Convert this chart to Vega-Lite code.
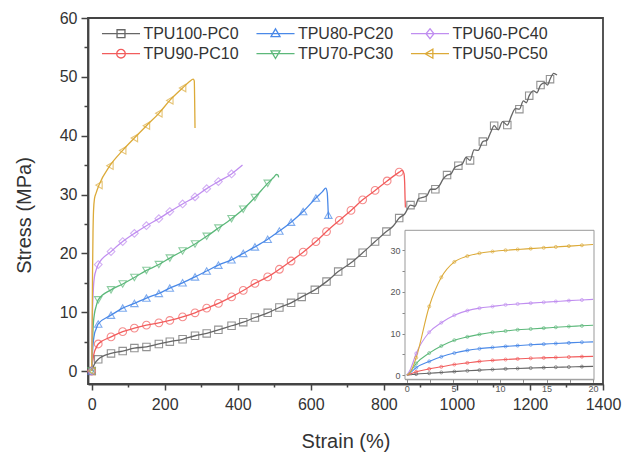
{
 "$schema": "https://vega.github.io/schema/vega-lite/v6.json",
 "width": 515, "height": 366,
 "autosize": "none",
 "padding": {"left": 88, "top": 18, "right": 29, "bottom": 71},
 "background": "white",
 "config": {"view": {"stroke": "#444", "strokeWidth": 1.8}, "font": "Liberation Sans", "axis": {"grid": false}},
 "datasets": {
  "main": [
   {"s":"TPU100-PC0","x":0,"y":0,"m":1},{"s":"TPU100-PC0","x":1,"y":0.25,"m":0},{"s":"TPU100-PC0","x":2.4,"y":0.45,"m":0},{"s":"TPU100-PC0","x":5.1,"y":0.85,"m":0},{"s":"TPU100-PC0","x":7.8,"y":1.2,"m":0},{"s":"TPU100-PC0","x":11.9,"y":1.6,"m":0},{"s":"TPU100-PC0","x":18,"y":2.0,"m":1},{"s":"TPU100-PC0","x":53,"y":3.0,"m":1},{"s":"TPU100-PC0","x":85,"y":3.4,"m":1},{"s":"TPU100-PC0","x":117,"y":3.9,"m":1},{"s":"TPU100-PC0","x":150,"y":4.1,"m":1},{"s":"TPU100-PC0","x":184,"y":4.6,"m":1},{"s":"TPU100-PC0","x":214,"y":5.0,"m":1},{"s":"TPU100-PC0","x":249,"y":5.4,"m":1},{"s":"TPU100-PC0","x":283,"y":6.0,"m":1},{"s":"TPU100-PC0","x":315,"y":6.4,"m":1},{"s":"TPU100-PC0","x":347,"y":7.0,"m":1},{"s":"TPU100-PC0","x":383,"y":7.7,"m":1},{"s":"TPU100-PC0","x":415,"y":8.3,"m":1},{"s":"TPU100-PC0","x":447,"y":9.1,"m":1},{"s":"TPU100-PC0","x":482,"y":9.9,"m":1},{"s":"TPU100-PC0","x":514,"y":10.8,"m":1},{"s":"TPU100-PC0","x":546,"y":11.6,"m":1},{"s":"TPU100-PC0","x":575,"y":12.6,"m":1},{"s":"TPU100-PC0","x":611,"y":13.8,"m":1},{"s":"TPU100-PC0","x":643,"y":15.2,"m":1},{"s":"TPU100-PC0","x":675,"y":16.9,"m":1},{"s":"TPU100-PC0","x":710,"y":18.4,"m":1},{"s":"TPU100-PC0","x":742,"y":20.1,"m":1},{"s":"TPU100-PC0","x":776,"y":22.0,"m":1},{"s":"TPU100-PC0","x":807,"y":23.7,"m":1},{"s":"TPU100-PC0","x":825,"y":24.6,"m":0},{"s":"TPU100-PC0","x":842,"y":26.0,"m":1},{"s":"TPU100-PC0","x":857,"y":26.7,"m":0},{"s":"TPU100-PC0","x":873,"y":28.2,"m":1},{"s":"TPU100-PC0","x":885,"y":28.0,"m":0},{"s":"TPU100-PC0","x":895,"y":29.3,"m":0},{"s":"TPU100-PC0","x":906,"y":29.5,"m":1},{"s":"TPU100-PC0","x":918,"y":29.8,"m":0},{"s":"TPU100-PC0","x":928,"y":30.9,"m":0},{"s":"TPU100-PC0","x":941,"y":30.9,"m":1},{"s":"TPU100-PC0","x":952,"y":31.5,"m":0},{"s":"TPU100-PC0","x":962,"y":32.6,"m":0},{"s":"TPU100-PC0","x":973,"y":33.3,"m":1},{"s":"TPU100-PC0","x":984,"y":33.5,"m":0},{"s":"TPU100-PC0","x":994,"y":34.6,"m":0},{"s":"TPU100-PC0","x":1004,"y":34.9,"m":1},{"s":"TPU100-PC0","x":1015,"y":35.2,"m":0},{"s":"TPU100-PC0","x":1025,"y":36.3,"m":0},{"s":"TPU100-PC0","x":1036,"y":35.8,"m":1},{"s":"TPU100-PC0","x":1047,"y":37.6,"m":0},{"s":"TPU100-PC0","x":1058,"y":37.5,"m":0},{"s":"TPU100-PC0","x":1071,"y":39.0,"m":1},{"s":"TPU100-PC0","x":1082,"y":39.2,"m":0},{"s":"TPU100-PC0","x":1092,"y":40.5,"m":0},{"s":"TPU100-PC0","x":1102,"y":41.7,"m":1},{"s":"TPU100-PC0","x":1113,"y":41.0,"m":0},{"s":"TPU100-PC0","x":1125,"y":42.4,"m":0},{"s":"TPU100-PC0","x":1138,"y":41.8,"m":1},{"s":"TPU100-PC0","x":1150,"y":43.5,"m":0},{"s":"TPU100-PC0","x":1160,"y":44.6,"m":0},{"s":"TPU100-PC0","x":1171,"y":44.5,"m":1},{"s":"TPU100-PC0","x":1182,"y":45.9,"m":0},{"s":"TPU100-PC0","x":1190,"y":45.6,"m":0},{"s":"TPU100-PC0","x":1198,"y":46.8,"m":1},{"s":"TPU100-PC0","x":1210,"y":47.6,"m":0},{"s":"TPU100-PC0","x":1219,"y":47.3,"m":0},{"s":"TPU100-PC0","x":1229,"y":48.6,"m":1},{"s":"TPU100-PC0","x":1240,"y":49.0,"m":0},{"s":"TPU100-PC0","x":1248,"y":48.6,"m":0},{"s":"TPU100-PC0","x":1255,"y":49.6,"m":1},{"s":"TPU100-PC0","x":1265,"y":50.6,"m":0},{"s":"TPU100-PC0","x":1274,"y":50.3,"m":0},
   {"s":"TPU90-PC10","x":0,"y":0,"m":1},{"s":"TPU90-PC10","x":1,"y":0.8,"m":0},{"s":"TPU90-PC10","x":2.4,"y":1.5,"m":0},{"s":"TPU90-PC10","x":3.7,"y":2.0,"m":0},{"s":"TPU90-PC10","x":5.1,"y":2.55,"m":0},{"s":"TPU90-PC10","x":7.8,"y":3.3,"m":0},{"s":"TPU90-PC10","x":11.9,"y":3.9,"m":0},{"s":"TPU90-PC10","x":18,"y":4.6,"m":1},{"s":"TPU90-PC10","x":53,"y":5.8,"m":1},{"s":"TPU90-PC10","x":85,"y":6.7,"m":1},{"s":"TPU90-PC10","x":117,"y":7.3,"m":1},{"s":"TPU90-PC10","x":150,"y":7.8,"m":1},{"s":"TPU90-PC10","x":184,"y":8.2,"m":1},{"s":"TPU90-PC10","x":214,"y":8.6,"m":1},{"s":"TPU90-PC10","x":249,"y":9.2,"m":1},{"s":"TPU90-PC10","x":283,"y":9.9,"m":1},{"s":"TPU90-PC10","x":315,"y":10.7,"m":1},{"s":"TPU90-PC10","x":347,"y":11.5,"m":1},{"s":"TPU90-PC10","x":383,"y":12.6,"m":1},{"s":"TPU90-PC10","x":415,"y":13.7,"m":1},{"s":"TPU90-PC10","x":447,"y":14.9,"m":1},{"s":"TPU90-PC10","x":482,"y":16.0,"m":1},{"s":"TPU90-PC10","x":514,"y":17.3,"m":1},{"s":"TPU90-PC10","x":546,"y":18.7,"m":1},{"s":"TPU90-PC10","x":579,"y":20.2,"m":1},{"s":"TPU90-PC10","x":614,"y":22.0,"m":1},{"s":"TPU90-PC10","x":643,"y":23.7,"m":1},{"s":"TPU90-PC10","x":678,"y":25.6,"m":1},{"s":"TPU90-PC10","x":710,"y":27.3,"m":1},{"s":"TPU90-PC10","x":742,"y":29.1,"m":1},{"s":"TPU90-PC10","x":776,"y":30.7,"m":1},{"s":"TPU90-PC10","x":809,"y":32.3,"m":1},{"s":"TPU90-PC10","x":842,"y":33.8,"m":1},{"s":"TPU90-PC10","x":850,"y":34.1,"m":0},{"s":"TPU90-PC10","x":855,"y":33.6,"m":0},{"s":"TPU90-PC10","x":857,"y":32.0,"m":0},{"s":"TPU90-PC10","x":858,"y":29.5,"m":0},{"s":"TPU90-PC10","x":859,"y":27.8,"m":0},
   {"s":"TPU80-PC20","x":0,"y":0,"m":1},{"s":"TPU80-PC20","x":1,"y":1.8,"m":0},{"s":"TPU80-PC20","x":2.4,"y":3.3,"m":0},{"s":"TPU80-PC20","x":3.7,"y":4.4,"m":0},{"s":"TPU80-PC20","x":5.1,"y":5.3,"m":0},{"s":"TPU80-PC20","x":7.8,"y":6.35,"m":0},{"s":"TPU80-PC20","x":11.9,"y":7.1,"m":0},{"s":"TPU80-PC20","x":18,"y":8.0,"m":1},{"s":"TPU80-PC20","x":53,"y":9.5,"m":1},{"s":"TPU80-PC20","x":85,"y":10.7,"m":1},{"s":"TPU80-PC20","x":117,"y":11.5,"m":1},{"s":"TPU80-PC20","x":150,"y":12.4,"m":1},{"s":"TPU80-PC20","x":184,"y":13.2,"m":1},{"s":"TPU80-PC20","x":214,"y":14.1,"m":1},{"s":"TPU80-PC20","x":249,"y":15.0,"m":1},{"s":"TPU80-PC20","x":283,"y":16.0,"m":1},{"s":"TPU80-PC20","x":315,"y":17.0,"m":1},{"s":"TPU80-PC20","x":347,"y":18.0,"m":1},{"s":"TPU80-PC20","x":383,"y":18.9,"m":1},{"s":"TPU80-PC20","x":415,"y":20.0,"m":1},{"s":"TPU80-PC20","x":447,"y":21.1,"m":1},{"s":"TPU80-PC20","x":482,"y":22.4,"m":1},{"s":"TPU80-PC20","x":514,"y":23.8,"m":1},{"s":"TPU80-PC20","x":546,"y":25.3,"m":1},{"s":"TPU80-PC20","x":579,"y":27.1,"m":1},{"s":"TPU80-PC20","x":614,"y":29.4,"m":1},{"s":"TPU80-PC20","x":632,"y":30.5,"m":0},{"s":"TPU80-PC20","x":641,"y":31.1,"m":0},{"s":"TPU80-PC20","x":645,"y":30.3,"m":0},{"s":"TPU80-PC20","x":647,"y":28.0,"m":0},{"s":"TPU80-PC20","x":648,"y":26.5,"m":1},{"s":"TPU80-PC20","x":649,"y":26.0,"m":0},
   {"s":"TPU70-PC30","x":0,"y":0,"m":1},{"s":"TPU70-PC30","x":1,"y":2.8,"m":0},{"s":"TPU70-PC30","x":2.4,"y":5.3,"m":0},{"s":"TPU70-PC30","x":3.7,"y":7.0,"m":0},{"s":"TPU70-PC30","x":5.1,"y":8.4,"m":0},{"s":"TPU70-PC30","x":7.8,"y":9.8,"m":0},{"s":"TPU70-PC30","x":11.9,"y":10.9,"m":0},{"s":"TPU70-PC30","x":18,"y":12.1,"m":1},{"s":"TPU70-PC30","x":53,"y":13.8,"m":1},{"s":"TPU70-PC30","x":85,"y":14.8,"m":1},{"s":"TPU70-PC30","x":117,"y":15.9,"m":1},{"s":"TPU70-PC30","x":150,"y":17.1,"m":1},{"s":"TPU70-PC30","x":184,"y":18.1,"m":1},{"s":"TPU70-PC30","x":214,"y":19.2,"m":1},{"s":"TPU70-PC30","x":249,"y":20.4,"m":1},{"s":"TPU70-PC30","x":283,"y":21.6,"m":1},{"s":"TPU70-PC30","x":315,"y":22.9,"m":1},{"s":"TPU70-PC30","x":347,"y":24.3,"m":1},{"s":"TPU70-PC30","x":383,"y":25.9,"m":1},{"s":"TPU70-PC30","x":415,"y":27.5,"m":1},{"s":"TPU70-PC30","x":447,"y":29.5,"m":1},{"s":"TPU70-PC30","x":482,"y":31.9,"m":1},{"s":"TPU70-PC30","x":498,"y":32.9,"m":0},{"s":"TPU70-PC30","x":506,"y":33.4,"m":0},{"s":"TPU70-PC30","x":510,"y":33.3,"m":0},{"s":"TPU70-PC30","x":512,"y":32.9,"m":0},
   {"s":"TPU60-PC40","x":0,"y":0,"m":1},{"s":"TPU60-PC40","x":1,"y":5.2,"m":0},{"s":"TPU60-PC40","x":2.4,"y":10.3,"m":0},{"s":"TPU60-PC40","x":3.7,"y":12.6,"m":0},{"s":"TPU60-PC40","x":5.1,"y":14.4,"m":0},{"s":"TPU60-PC40","x":7.8,"y":16.1,"m":0},{"s":"TPU60-PC40","x":11.9,"y":17.1,"m":0},{"s":"TPU60-PC40","x":18,"y":18.1,"m":1},{"s":"TPU60-PC40","x":53,"y":20.3,"m":1},{"s":"TPU60-PC40","x":85,"y":22.0,"m":1},{"s":"TPU60-PC40","x":117,"y":23.4,"m":1},{"s":"TPU60-PC40","x":150,"y":24.7,"m":1},{"s":"TPU60-PC40","x":184,"y":25.9,"m":1},{"s":"TPU60-PC40","x":214,"y":27.1,"m":1},{"s":"TPU60-PC40","x":249,"y":28.4,"m":1},{"s":"TPU60-PC40","x":283,"y":29.6,"m":1},{"s":"TPU60-PC40","x":315,"y":31.0,"m":1},{"s":"TPU60-PC40","x":347,"y":32.2,"m":1},{"s":"TPU60-PC40","x":383,"y":33.5,"m":1},{"s":"TPU60-PC40","x":413,"y":35.0,"m":0},
   {"s":"TPU50-PC50","x":0,"y":0,"m":1},{"s":"TPU50-PC50","x":1,"y":4.2,"m":0},{"s":"TPU50-PC50","x":2.4,"y":16.5,"m":0},{"s":"TPU50-PC50","x":3.7,"y":23.5,"m":0},{"s":"TPU50-PC50","x":5.1,"y":27.2,"m":0},{"s":"TPU50-PC50","x":7.8,"y":29.3,"m":0},{"s":"TPU50-PC50","x":11.9,"y":30.2,"m":0},{"s":"TPU50-PC50","x":20,"y":31.6,"m":1},{"s":"TPU50-PC50","x":50,"y":34.9,"m":1},{"s":"TPU50-PC50","x":85,"y":37.5,"m":1},{"s":"TPU50-PC50","x":117,"y":39.6,"m":1},{"s":"TPU50-PC50","x":150,"y":41.7,"m":1},{"s":"TPU50-PC50","x":184,"y":43.8,"m":1},{"s":"TPU50-PC50","x":214,"y":46.0,"m":1},{"s":"TPU50-PC50","x":249,"y":48.1,"m":1},{"s":"TPU50-PC50","x":268,"y":49.2,"m":0},{"s":"TPU50-PC50","x":278,"y":49.6,"m":0},{"s":"TPU50-PC50","x":281,"y":49.3,"m":0},{"s":"TPU50-PC50","x":282,"y":46.0,"m":0},{"s":"TPU50-PC50","x":283,"y":41.3,"m":0}
  ],
  "inset": [
   {"s":"TPU100-PC0","x":0,"y":0,"m":0},{"s":"TPU100-PC0","x":0.4,"y":0.1,"m":0},{"s":"TPU100-PC0","x":1.0,"y":0.25,"m":1},{"s":"TPU100-PC0","x":2.4,"y":0.45,"m":1},{"s":"TPU100-PC0","x":3.7,"y":0.65,"m":1},{"s":"TPU100-PC0","x":5.1,"y":0.85,"m":1},{"s":"TPU100-PC0","x":6.5,"y":1.05,"m":1},{"s":"TPU100-PC0","x":7.8,"y":1.2,"m":1},{"s":"TPU100-PC0","x":9.2,"y":1.35,"m":1},{"s":"TPU100-PC0","x":10.6,"y":1.5,"m":1},{"s":"TPU100-PC0","x":11.9,"y":1.6,"m":1},{"s":"TPU100-PC0","x":13.3,"y":1.7,"m":1},{"s":"TPU100-PC0","x":14.7,"y":1.8,"m":1},{"s":"TPU100-PC0","x":16.0,"y":1.9,"m":1},{"s":"TPU100-PC0","x":17.4,"y":1.95,"m":1},{"s":"TPU100-PC0","x":18.8,"y":2.05,"m":1},{"s":"TPU100-PC0","x":20.0,"y":2.1,"m":0},
   {"s":"TPU90-PC10","x":0,"y":0,"m":0},{"s":"TPU90-PC10","x":0.4,"y":0.3,"m":0},{"s":"TPU90-PC10","x":1.0,"y":0.8,"m":1},{"s":"TPU90-PC10","x":2.4,"y":1.5,"m":1},{"s":"TPU90-PC10","x":3.7,"y":2.0,"m":1},{"s":"TPU90-PC10","x":5.1,"y":2.55,"m":1},{"s":"TPU90-PC10","x":6.5,"y":2.95,"m":1},{"s":"TPU90-PC10","x":7.8,"y":3.3,"m":1},{"s":"TPU90-PC10","x":9.2,"y":3.55,"m":1},{"s":"TPU90-PC10","x":10.6,"y":3.75,"m":1},{"s":"TPU90-PC10","x":11.9,"y":3.9,"m":1},{"s":"TPU90-PC10","x":13.3,"y":4.05,"m":1},{"s":"TPU90-PC10","x":14.7,"y":4.15,"m":1},{"s":"TPU90-PC10","x":16.0,"y":4.25,"m":1},{"s":"TPU90-PC10","x":17.4,"y":4.35,"m":1},{"s":"TPU90-PC10","x":18.8,"y":4.45,"m":1},{"s":"TPU90-PC10","x":20.0,"y":4.5,"m":0},
   {"s":"TPU80-PC20","x":0,"y":0,"m":0},{"s":"TPU80-PC20","x":0.4,"y":0.6,"m":0},{"s":"TPU80-PC20","x":1.0,"y":1.8,"m":1},{"s":"TPU80-PC20","x":2.4,"y":3.3,"m":1},{"s":"TPU80-PC20","x":3.7,"y":4.4,"m":1},{"s":"TPU80-PC20","x":5.1,"y":5.3,"m":1},{"s":"TPU80-PC20","x":6.5,"y":5.95,"m":1},{"s":"TPU80-PC20","x":7.8,"y":6.35,"m":1},{"s":"TPU80-PC20","x":9.2,"y":6.65,"m":1},{"s":"TPU80-PC20","x":10.6,"y":6.9,"m":1},{"s":"TPU80-PC20","x":11.9,"y":7.1,"m":1},{"s":"TPU80-PC20","x":13.3,"y":7.3,"m":1},{"s":"TPU80-PC20","x":14.7,"y":7.45,"m":1},{"s":"TPU80-PC20","x":16.0,"y":7.6,"m":1},{"s":"TPU80-PC20","x":17.4,"y":7.75,"m":1},{"s":"TPU80-PC20","x":18.8,"y":7.9,"m":1},{"s":"TPU80-PC20","x":20.0,"y":8.0,"m":0},
   {"s":"TPU70-PC30","x":0,"y":0,"m":0},{"s":"TPU70-PC30","x":0.4,"y":0.9,"m":0},{"s":"TPU70-PC30","x":1.0,"y":2.8,"m":1},{"s":"TPU70-PC30","x":2.4,"y":5.3,"m":1},{"s":"TPU70-PC30","x":3.7,"y":7.0,"m":1},{"s":"TPU70-PC30","x":5.1,"y":8.4,"m":1},{"s":"TPU70-PC30","x":6.5,"y":9.2,"m":1},{"s":"TPU70-PC30","x":7.8,"y":9.8,"m":1},{"s":"TPU70-PC30","x":9.2,"y":10.3,"m":1},{"s":"TPU70-PC30","x":10.6,"y":10.6,"m":1},{"s":"TPU70-PC30","x":11.9,"y":10.9,"m":1},{"s":"TPU70-PC30","x":13.3,"y":11.1,"m":1},{"s":"TPU70-PC30","x":14.7,"y":11.3,"m":1},{"s":"TPU70-PC30","x":16.0,"y":11.5,"m":1},{"s":"TPU70-PC30","x":17.4,"y":11.7,"m":1},{"s":"TPU70-PC30","x":18.8,"y":11.85,"m":1},{"s":"TPU70-PC30","x":20.0,"y":12.0,"m":0},
   {"s":"TPU60-PC40","x":0,"y":0,"m":0},{"s":"TPU60-PC40","x":0.4,"y":1.5,"m":0},{"s":"TPU60-PC40","x":1.0,"y":5.2,"m":1},{"s":"TPU60-PC40","x":2.4,"y":10.3,"m":1},{"s":"TPU60-PC40","x":3.7,"y":12.6,"m":1},{"s":"TPU60-PC40","x":5.1,"y":14.4,"m":1},{"s":"TPU60-PC40","x":6.5,"y":15.5,"m":1},{"s":"TPU60-PC40","x":7.8,"y":16.1,"m":1},{"s":"TPU60-PC40","x":9.2,"y":16.5,"m":1},{"s":"TPU60-PC40","x":10.6,"y":16.9,"m":1},{"s":"TPU60-PC40","x":11.9,"y":17.1,"m":1},{"s":"TPU60-PC40","x":13.3,"y":17.3,"m":1},{"s":"TPU60-PC40","x":14.7,"y":17.5,"m":1},{"s":"TPU60-PC40","x":16.0,"y":17.7,"m":1},{"s":"TPU60-PC40","x":17.4,"y":17.9,"m":1},{"s":"TPU60-PC40","x":18.8,"y":18.05,"m":1},{"s":"TPU60-PC40","x":20.0,"y":18.2,"m":0},
   {"s":"TPU50-PC50","x":0,"y":0,"m":0},{"s":"TPU50-PC50","x":0.4,"y":0.8,"m":0},{"s":"TPU50-PC50","x":1.0,"y":4.2,"m":1},{"s":"TPU50-PC50","x":2.4,"y":16.5,"m":1},{"s":"TPU50-PC50","x":3.7,"y":23.5,"m":1},{"s":"TPU50-PC50","x":5.1,"y":27.2,"m":1},{"s":"TPU50-PC50","x":6.5,"y":28.6,"m":1},{"s":"TPU50-PC50","x":7.8,"y":29.3,"m":1},{"s":"TPU50-PC50","x":9.2,"y":29.7,"m":1},{"s":"TPU50-PC50","x":10.6,"y":30.0,"m":1},{"s":"TPU50-PC50","x":11.9,"y":30.2,"m":1},{"s":"TPU50-PC50","x":13.3,"y":30.4,"m":1},{"s":"TPU50-PC50","x":14.7,"y":30.6,"m":1},{"s":"TPU50-PC50","x":16.0,"y":30.8,"m":1},{"s":"TPU50-PC50","x":17.4,"y":31.0,"m":1},{"s":"TPU50-PC50","x":18.8,"y":31.2,"m":1},{"s":"TPU50-PC50","x":20.0,"y":31.4,"m":0}
  ]
 },
 "layer": [
  {
   "data": {"name": "main"},
   "encoding": {
    "x": {"field": "x", "type": "quantitative",
     "scale": {"domain": [-10, 1400], "nice": false, "zero": false},
     "axis": {"orient": "bottom", "values": [0,100,200,300,400,500,600,700,800,900,1000,1100,1200,1300,1400], "format": "d",
      "labelExpr": "datum.value % 200 === 0 ? datum.label : ''",
      "tickSize": {"condition": {"test": "datum.value % 200 === 0", "value": 6}, "value": 3},
      "tickColor": "#444", "tickWidth": 1.5, "domainColor": "#444", "domainWidth": 1.8,
      "labelFontSize": 16, "labelColor": "#333", "labelPadding": 6, "labelFlush": false, "labelOverlap": false,
      "title": "Strain (%)", "titleFontSize": 20, "titleFontWeight": "normal", "titleColor": "#333",
      "titleY": 57, "titleBaseline": "middle"}},
    "y": {"field": "y", "type": "quantitative",
     "scale": {"domain": [-2.2, 60], "nice": false, "zero": false},
     "axis": {"orient": "left", "values": [0,5,10,15,20,25,30,35,40,45,50,55,60], "format": "d",
      "labelExpr": "datum.value % 10 === 0 ? datum.label : ''",
      "tickSize": {"condition": {"test": "datum.value % 10 === 0", "value": 7}, "value": 4},
      "tickColor": "#444", "tickWidth": 1.5, "domainColor": "#444", "domainWidth": 1.8,
      "labelFontSize": 16, "labelColor": "#333", "labelPadding": 4, "labelOverlap": false, "labelFlush": false,
      "title": "Stress (MPa)", "titleFontSize": 20, "titleFontWeight": "normal", "titleColor": "#333",
      "titleX": -64, "titleY": 197, "titleAngle": -90, "titleAlign": "center", "titleBaseline": "middle"}},
    "stroke": {"field": "s", "type": "nominal",
     "scale": {"domain": ["TPU100-PC0","TPU90-PC10","TPU80-PC20","TPU70-PC30","TPU60-PC40","TPU50-PC50"],
               "range": ["#666666","#f25c5c","#4a89e8","#5cb87a","#c08ef0","#dcaa38"]},
     "legend": {"orient": "none", "legendX": 21, "legendY": 3.7, "columns": 3, "direction": "vertical", "title": null, "padding": 0,
      "labelFontSize": 16, "labelColor": "#333", "labelFont": "Liberation Sans", "labelOffset": 10.4,
      "symbolSize": 484, "symbolStrokeWidth": 1.3, "columnPadding": 14.5, "rowPadding": 0,
      "encode": {"symbols": {"update": {
        "fill": {"value": "transparent"},
        "shape": {"signal": "datum.value === 'TPU100-PC0' ? 'M-1.73,0H1.73M-0.36,-0.36H0.36V0.36H-0.36Z' : datum.value === 'TPU90-PC10' ? 'M-1.73,0H1.73M0.39,0A0.39,0.39,0,1,1,-0.39,0A0.39,0.39,0,1,1,0.39,0Z' : datum.value === 'TPU80-PC20' ? 'M-1.73,0H1.73M0,-0.44L0.41,0.26L-0.41,0.26Z' : datum.value === 'TPU70-PC30' ? 'M-1.73,0H1.73M0,0.44L0.41,-0.26L-0.41,-0.26Z' : datum.value === 'TPU60-PC40' ? 'M-1.73,0H1.73M0,-0.45L0.36,0L0,0.45L-0.36,0Z' : 'M-1.73,0H1.73M-0.44,0L0.26,-0.41L0.26,0.41Z'"}
      }}}}
    }
   },
   "layer": [
    {"mark": {"type": "line", "strokeWidth": 1.3, "interpolate": "monotone"}},
    {"transform": [{"filter": "datum.m == 1 && datum.s === 'TPU100-PC0'"}], "mark": {"type": "point", "shape": "square", "filled": false, "size": 55, "strokeWidth": 1.1}},
    {"transform": [{"filter": "datum.m == 1 && datum.s === 'TPU90-PC10'"}], "mark": {"type": "point", "shape": "circle", "filled": false, "size": 60, "strokeWidth": 1.1}},
    {"transform": [{"filter": "datum.m == 1 && datum.s === 'TPU80-PC20'"}], "mark": {"type": "point", "shape": "triangle-up", "filled": false, "size": 55, "strokeWidth": 1.1}},
    {"transform": [{"filter": "datum.m == 1 && datum.s === 'TPU70-PC30'"}], "mark": {"type": "point", "shape": "triangle-down", "filled": false, "size": 55, "strokeWidth": 1.1}},
    {"transform": [{"filter": "datum.m == 1 && datum.s === 'TPU60-PC40'"}], "mark": {"type": "point", "shape": "diamond", "filled": false, "size": 60, "strokeWidth": 1.1}},
    {"transform": [{"filter": "datum.m == 1 && datum.s === 'TPU50-PC50'"}], "mark": {"type": "point", "shape": "triangle-left", "filled": false, "size": 55, "strokeWidth": 1.1}}
   ]
  },
  {
   "layer": [
    {"data": {"values": [{}]},
     "mark": {"type": "rect", "fill": "white", "stroke": "#999", "strokeWidth": 1},
     "encoding": {
      "x": {"datum": -0.2, "type": "quantitative",
       "scale": {"domain": [-0.2, 20.1], "range": [317, 506], "nice": false, "zero": false},
       "axis": {"orient": "bottom", "offset": -4.7, "values": [0,2.5,5,7.5,10,12.5,15,17.5,20],
        "labelExpr": "datum.value % 5 === 0 ? datum.label : ''", "tickSize": 3, "tickColor": "#888", "domainColor": "#999",
        "labelFontSize": 9, "labelColor": "#555", "labelPadding": 2, "title": null, "labelFlush": false, "labelOverlap": false}},
      "x2": {"datum": 20.1},
      "y": {"datum": -1, "type": "quantitative",
       "scale": {"domain": [-1, 34.8], "range": [361.3, 212.3], "nice": false, "zero": false},
       "axis": {"orient": "left", "offset": -317, "values": [0,5,10,15,20,25,30],
        "labelExpr": "datum.value % 10 === 0 ? datum.label : ''", "tickSize": 3, "tickColor": "#888", "domainColor": "#999",
        "labelFontSize": 9, "labelColor": "#555", "labelPadding": 2, "title": null, "labelFlush": false, "labelOverlap": false}},
      "y2": {"datum": 34.8}
     }},
    {"data": {"name": "inset"},
     "mark": {"type": "line", "strokeWidth": 1.1, "interpolate": "monotone"},
     "encoding": {
      "x": {"field": "x", "type": "quantitative"},
      "y": {"field": "y", "type": "quantitative"},
      "stroke": {"field": "s", "type": "nominal", "legend": null}
     }},
    {"data": {"name": "inset"},
     "transform": [{"filter": "datum.m == 1"}],
     "mark": {"type": "point", "filled": false, "size": 9, "strokeWidth": 1},
     "encoding": {
      "x": {"field": "x", "type": "quantitative"},
      "y": {"field": "y", "type": "quantitative"},
      "stroke": {"field": "s", "type": "nominal", "legend": null}
     }}
   ]
  }
 ],
 "resolve": {"scale": {"x": "independent", "y": "independent"}}
}
